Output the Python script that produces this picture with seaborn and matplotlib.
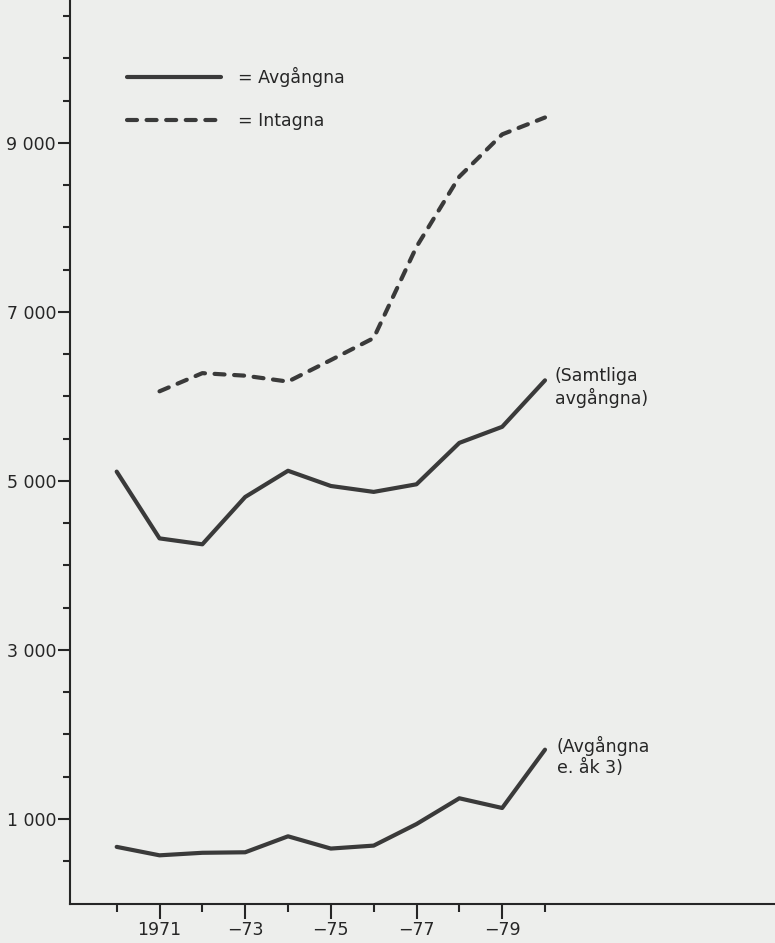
import matplotlib
matplotlib.use('Agg')
import matplotlib.pyplot as plt
from matplotlib.lines import Line2D
import seaborn as sns

# ── Data ──────────────────────────────────────────────────────
years = [1970, 1971, 1972, 1973, 1974, 1975, 1976, 1977, 1978, 1979, 1980]
samtliga_avgangna = [5110, 4320, 4250, 4810, 5120, 4940, 4870, 4960, 5450, 5640, 6190]
avgangna_ak3 = [670, 570, 600, 606, 795, 650, 685, 940, 1245, 1130, 1820]
intagna_years = [1971, 1972, 1973, 1974, 1975, 1976, 1977, 1978, 1979, 1980]
intagna = [6060, 6275, 6245, 6175, 6430, 6690, 7770, 8600, 9100, 9300]

y_major = [1000, 3000, 5000, 7000, 9000]
y_minor = [500, 1500, 2000, 2500, 3500, 4000, 4500, 5500, 6000, 6500,
           7500, 8000, 8500, 9500, 10000, 10500]
y_labels = ['1 000', '3 000', '5 000', '7 000', '9 000']
x_major = [1971, 1973, 1975, 1977, 1979]
x_minor = [1970, 1972, 1974, 1976, 1978, 1980]
x_labels = ['1971', '\u221273', '\u221275', '\u221277', '\u221279']

INK = '#3a3a3a'
TXT = '#262626'
PAPER = '#edeeec'
DASH = [2.4, 2.3]

sns.set_style('ticks')
plt.rcParams['font.family'] = ['DejaVu Sans']

fig = plt.figure(figsize=(7.75, 9.43), dpi=100, facecolor=PAPER)
ax = fig.add_axes([70 / 775, 39.5 / 943, 705 / 775, 903.5 / 943])
ax.set_facecolor(PAPER)

# ── Lines ─────────────────────────────────────────────────────
sns.lineplot(x=years, y=samtliga_avgangna, ax=ax, color=INK, lw=3.0)
sns.lineplot(x=years, y=avgangna_ak3, ax=ax, color=INK, lw=3.0)
sns.lineplot(x=intagna_years, y=intagna, ax=ax, color=INK, lw=3.0)
ax.lines[-1].set_dashes(DASH)
for ln in ax.lines:
    ln.set_solid_capstyle('round')
    ln.set_dash_capstyle('round')

# ── Axes ──────────────────────────────────────────────────────
ax.set_xlim(1968.91, 1985.37)
ax.set_ylim(0, 10690)
sns.despine(ax=ax)
for side in ['left', 'bottom']:
    ax.spines[side].set_linewidth(1.5)
    ax.spines[side].set_color(TXT)

ax.set_yticks(y_major)
ax.set_yticklabels(y_labels)
ax.set_yticks(y_minor, minor=True)
ax.set_xticks(x_major)
ax.set_xticklabels(x_labels)
ax.set_xticks(x_minor, minor=True)

ax.tick_params(axis='y', which='major', direction='out', length=9, width=1.5,
               color=TXT, labelsize=12.5, labelcolor=TXT, pad=1)
ax.tick_params(axis='y', which='minor', direction='out', length=5, width=1.5, color=TXT)
ax.tick_params(axis='x', which='major', direction='out', length=10.5, width=1.5,
               color=TXT, labelsize=12.5, labelcolor=TXT, pad=2)
ax.tick_params(axis='x', which='minor', direction='out', length=5.5, width=1.5, color=TXT)
ax.set_xlabel('')
ax.set_ylabel('')

# ── Legend ────────────────────────────────────────────────────
handles = [Line2D([], [], color=INK, lw=3.0, solid_capstyle='round'),
           Line2D([], [], color=INK, lw=3.0, dashes=DASH, dash_capstyle='round')]
ax.legend(handles, ['= Avg\u00e5ngna', '= Intagna'], loc='upper left',
          bbox_to_anchor=(127 / 775, 1 - 67 / 943), bbox_transform=fig.transFigure,
          frameon=False, fontsize=12.5, handlelength=5.4, handletextpad=1.0,
          labelspacing=1.45, borderpad=0, borderaxespad=0, labelcolor=TXT)

# ── End labels ────────────────────────────────────────────────
ax.annotate('(Samtliga\navg\u00e5ngna)', xy=(years[-1], samtliga_avgangna[-1]),
            xytext=(10, -7), textcoords='offset pixels', ha='left', va='center',
            fontsize=12.5, color=TXT, linespacing=1.22)
ax.annotate('(Avg\u00e5ngna\ne. \u00e5k 3)', xy=(years[-1], avgangna_ak3[-1]),
            xytext=(12, -7), textcoords='offset pixels', ha='left', va='center',
            fontsize=12.5, color=TXT, linespacing=1.22)

plt.savefig('out.png', dpi=100, facecolor=PAPER)
plt.close()
